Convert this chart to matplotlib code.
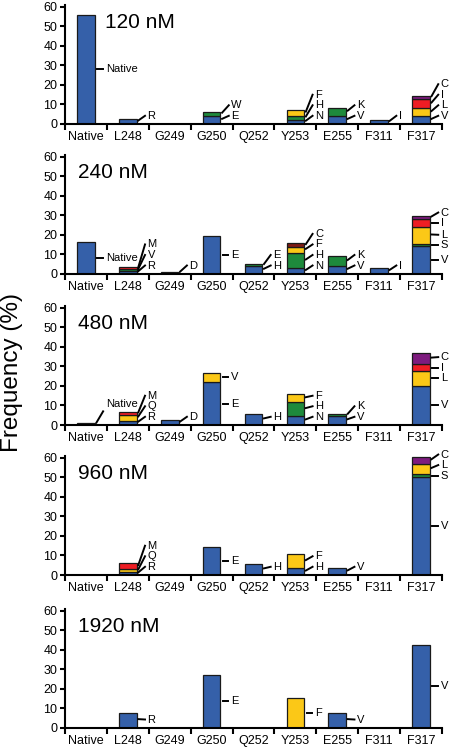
import numpy as np
import matplotlib
matplotlib.use('Agg')
import matplotlib.pyplot as plt

plt.rcParams['font.family'] = ['Liberation Sans', 'DejaVu Sans']

residues = ['Native', 'L248', 'G249', 'G250', 'Q252', 'Y253', 'E255', 'F311', 'F317']
concentrations = ['120 nM', '240 nM', '480 nM', '960 nM', '1920 nM']

# stacked segments per residue, bottom to top (frequency %)
freq_120 = [[56], [2.4], [], [4.1, 2.2], [], [2.2, 2.1, 2.9], [4.1, 4.3], [2], [4.1, 3.9, 4.8, 1.7]]
aa_120 = [['Native'], ['R'], [], ['E', 'W'], [], ['N', 'H', 'F'], ['V', 'K'], ['I'], ['V', 'L', 'I', 'C']]

freq_240 = [[16.3], [1.4, 0.9, 0.9], [1], [19.4], [3.9, 0.9], [2.7, 8, 2.9, 1.9], [3.9, 5.1], [2.7],
            [14.1, 0.9, 9, 3.9, 1.7]]
aa_240 = [['Native'], ['R', 'V', 'M'], ['D'], ['E'], ['H', 'E'], ['N', 'H', 'F', 'C'], ['V', 'K'], ['I'],
          ['V', 'S', 'L', 'I', 'C']]

freq_480 = [[1.2], [2.3, 3.0, 1.2], [2.4], [22, 4.9], [5.6], [4.6, 7, 4.1], [4.8, 0.7], [], [20, 7.7, 3.4, 5.7]]
aa_480 = [['Native'], ['R', 'Q', 'M'], ['D'], ['E', 'V'], ['H'], ['N', 'H', 'F'], ['V', 'K'], [], ['V', 'L', 'I', 'C']]

freq_960 = [[], [1.5, 1.6, 2.8], [], [14.4], [5.6], [3.4, 7.3], [3.6], [], [50.3, 1.3, 5.4, 3.5]]
aa_960 = [[], ['R', 'Q', 'M'], [], ['E'], ['H'], ['H', 'F'], ['V'], [], ['V', 'S', 'L', 'C']]

freq_1920 = [[], [7.6], [], [27], [], [15.4], [7.6], [], [42.6]]
aa_1920 = [[], ['R'], [], ['E'], [], ['F'], ['V'], [], ['V']]

# segment colours (b blue, g green, y yellow, r red, p purple, d dark red)
shade_120 = [['b'], ['b'], [], ['b', 'g'], [], ['b', 'g', 'y'], ['b', 'g'], ['b'], ['b', 'y', 'r', 'p']]
shade_240 = [['b'], ['b', 'g', 'r'], ['b'], ['b'], ['b', 'g'], ['b', 'g', 'y', 'd'], ['b', 'g'], ['b'],
             ['b', 'g', 'y', 'r', 'p']]
shade_480 = [['b'], ['b', 'y', 'r'], ['b'], ['b', 'y'], ['b'], ['b', 'g', 'y'], ['b', 'g'], [], ['b', 'y', 'r', 'p']]
shade_960 = [[], ['b', 'y', 'r'], [], ['b'], ['b'], ['b', 'y'], ['b'], [], ['b', 'g', 'y', 'p']]
shade_1920 = [[], ['b'], [], ['b'], [], ['y'], ['b'], [], ['b']]

palette = {'b': '#3560a9', 'g': '#1e8a3c', 'y': '#fbc817', 'r': '#ee1d24', 'p': '#7d1b7e', 'd': '#7e1a14'}

panels = [
    (freq_120, aa_120, shade_120),
    (freq_240, aa_240, shade_240),
    (freq_480, aa_480, shade_480),
    (freq_960, aa_960, shade_960),
    (freq_1920, aa_1920, shade_1920),
]
bottoms_px = [124, 273.7, 425, 575, 727.7]

W, H = 452, 752
fig = plt.figure(figsize=(W / 100, H / 100), dpi=100)

for k, (freqs, aas, shades) in enumerate(panels):
    b = bottoms_px[k]
    ax = fig.add_axes([65 / W, 1 - b / H, 377 / W, 119 / H])
    totals = [sum(v) for v in freqs]
    for i, (vals, names, cols) in enumerate(zip(freqs, aas, shades)):
        base = 0
        mids = []
        for v, c in zip(vals, cols):
            ax.bar(i, v, bottom=base, width=0.42, color=palette[c], edgecolor='#1a1a1a', linewidth=0.9, zorder=2)
            mids.append(base + v / 2)
            base += v
        right = i + 0.21
        prev = -10
        for name, m in zip(names, mids):
            ly = max(m, prev + 5.4, 4.2)
            raised = False
            if len(name) > 1 and i + 1 < len(totals) and totals[i + 1] + 3 > ly:
                ly = totals[i + 1] + 4.5
                raised = True
            if abs(ly - m) < 0.3:
                ax.plot([right + 0.06, right + 0.19], [ly, ly], color='black', lw=1.4, clip_on=False)
            else:
                end = ly - 4 if raised else ly
                ax.plot([right + 0.04, right + 0.2], [m + 0.6, end], color='black', lw=1.4, clip_on=False)
            ax.text(right + 0.26, ly, name, fontsize=8, va='center', ha='left')
            prev = ly
    ax.set_xlim(-0.5, 8.5)
    ax.set_ylim(0, 61)
    ax.set_yticks(range(0, 61, 10))
    ax.set_xticks(range(len(residues)))
    ax.set_xticklabels(residues)
    ax.set_xticks(np.arange(-0.5, 9, 1), minor=True)
    ax.tick_params(axis='x', which='major', length=0, pad=5, labelsize=9)
    ax.tick_params(axis='x', which='minor', length=4, width=1.5, direction='out')
    ax.tick_params(axis='y', length=3.5, width=1.5, direction='out', labelsize=9, pad=2)
    for s in ['top', 'right']:
        ax.spines[s].set_visible(False)
    for s in ['left', 'bottom']:
        ax.spines[s].set_linewidth(1.5)
    tx = 0.45 if k == 0 else -0.2
    ax.text(tx, 52, concentrations[k], fontsize=15, va='center', ha='left')

fig.text(0.027, 0.505, 'Frequency (%)', rotation=90, va='center', ha='center', fontsize=17.5)

fig.savefig('out.png', dpi=100)
